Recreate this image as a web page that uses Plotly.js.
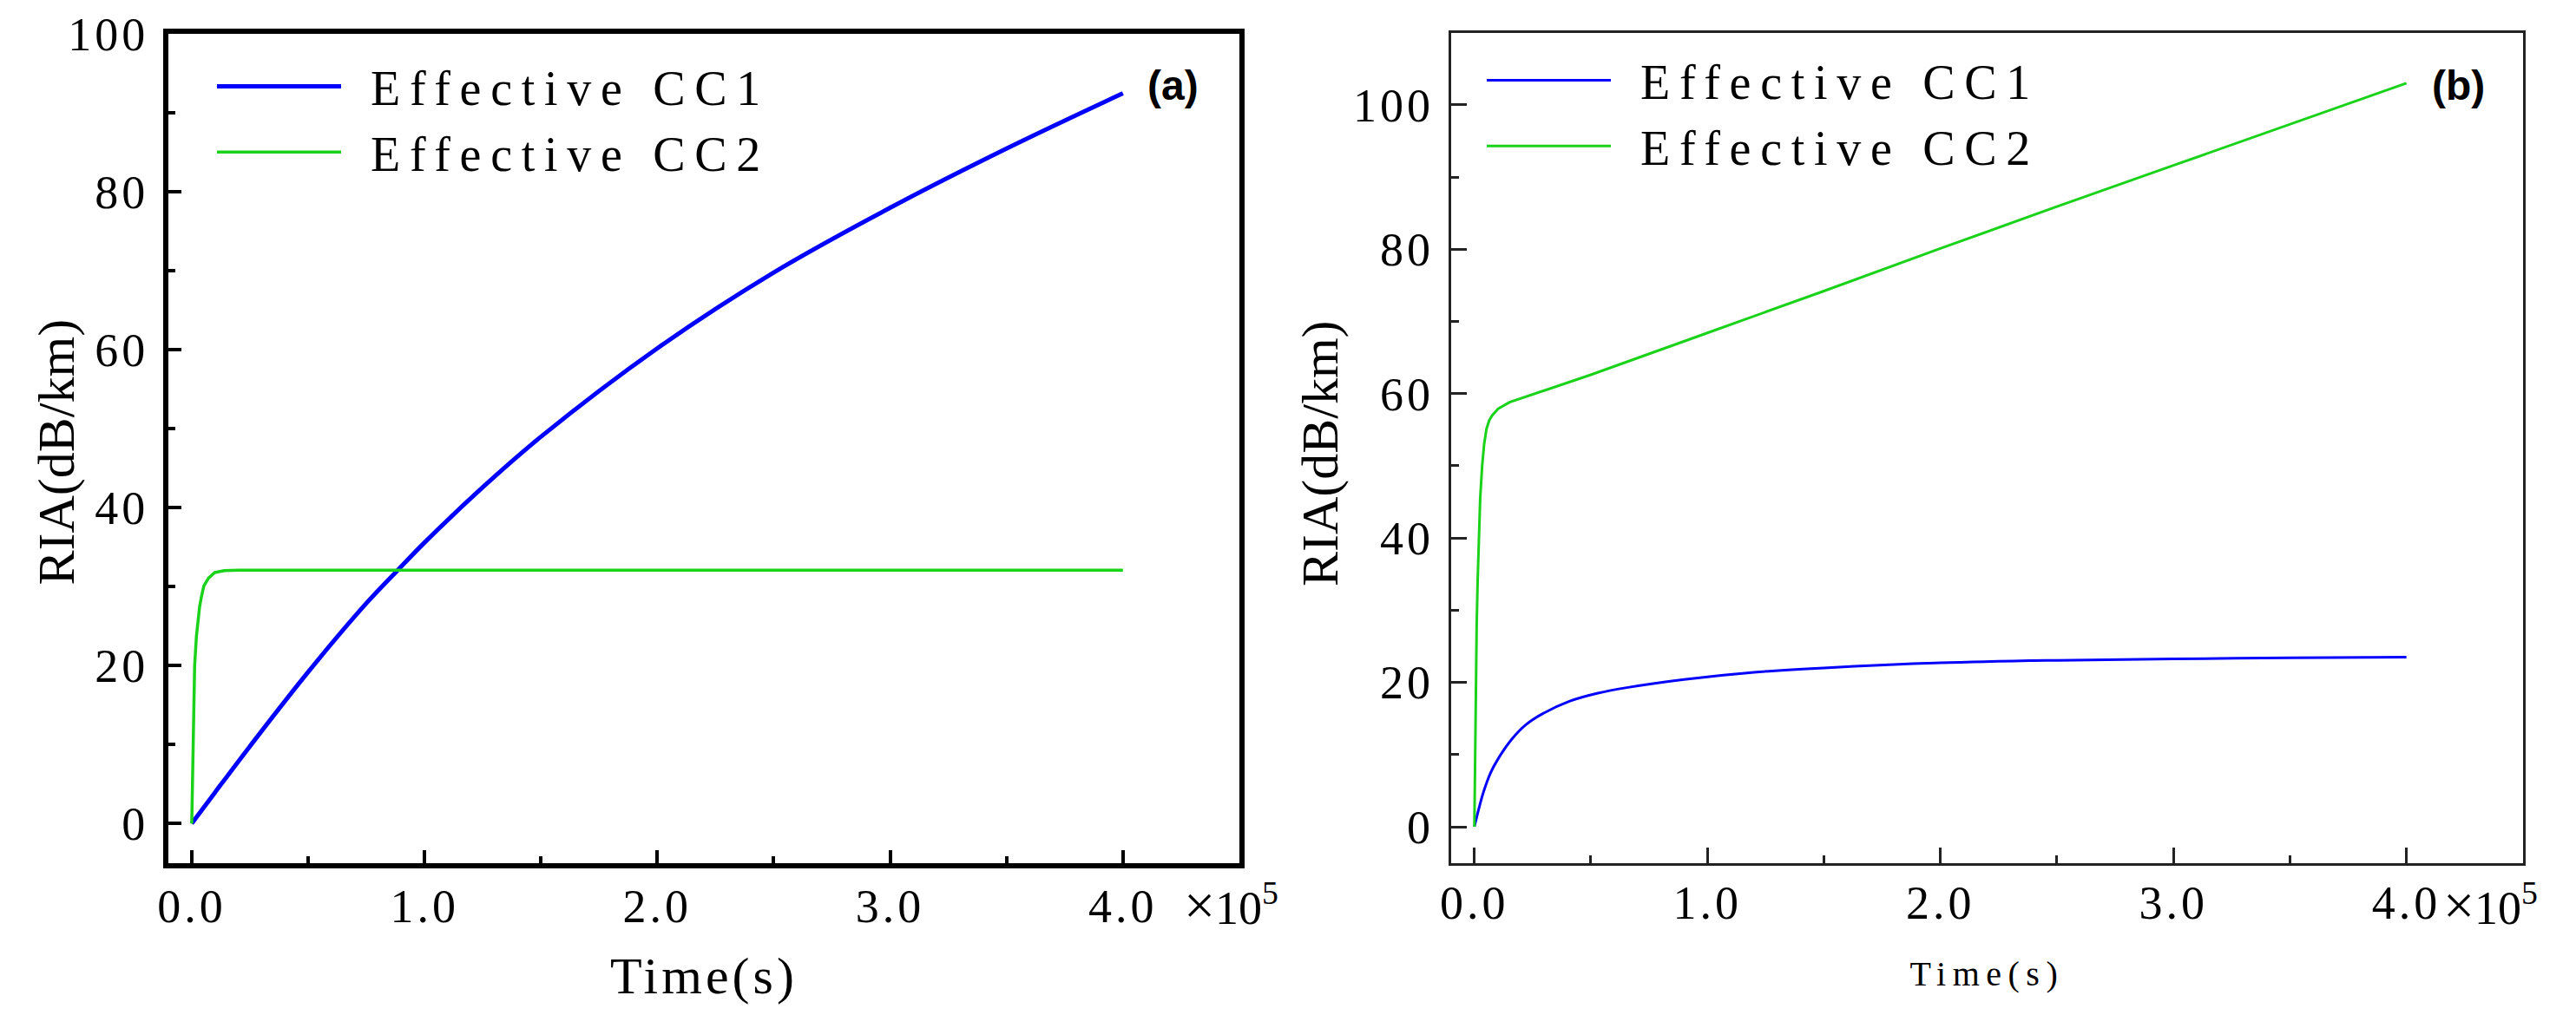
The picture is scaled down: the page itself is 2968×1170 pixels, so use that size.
<!DOCTYPE html>
<html>
<head>
<meta charset="utf-8">
<script src="https://cdn.plot.ly/plotly-3.0.1.min.js"></script>
<style>
  html, body { margin: 0; padding: 0; background: #fff; }
  #chart { width: 2968px; height: 1170px; }
  .xtick text, .ytick text, .x2tick text, .y2tick text { letter-spacing: 4px; }
  .legendtext, .legend2text { letter-spacing: 10.7px; transform: translateX(29px); }
  .legend .scrollbox, .legend2 .scrollbox { clip-path: none !important; }
  .xtitle { letter-spacing: 4px; }
  .x2title { letter-spacing: 7.5px; }
</style>
</head>
<body>
<div id="chart"></div>
<script>
// ---------- data (time in seconds, RIA in dB/km) ----------
// panel (a)
const aCC1_t = [0, 10000, 25000, 50000, 75000, 88500, 100000, 125000, 150000, 200000, 250000, 300000, 350000, 400000];
const aCC1_v = [0, 3.95, 9.8, 19.2, 27.9, 32.1, 35.6, 42.6, 49.0, 60.2, 69.8, 78.0, 85.5, 92.5];
const aCC2_t = [0, 300, 600, 900, 1240, 2000, 2600, 3340, 4200, 5200, 7200, 9900, 14000, 20000, 400000];
const aCC2_v = [0, 5, 10, 15, 20, 23.7, 25.5, 27.4, 28.8, 30.1, 31.1, 31.8, 32.05, 32.1, 32.1];
// panel (b)
const bCC1_t = [0, 2000, 4000, 7000, 10000, 16000, 22000, 29000, 41000, 53000, 66000, 90000, 120000, 150000, 200000, 250000, 300000, 350000, 400000];
const bCC1_v = [0, 2.6, 4.9, 7.5, 9.3, 12.1, 14.1, 15.6, 17.4, 18.5, 19.3, 20.4, 21.4, 22.0, 22.7, 23.05, 23.25, 23.4, 23.5];
const bCC2_t = [0, 300, 620, 1000, 1400, 1860, 2500, 3350, 4200, 5200, 6400, 7700, 10200, 15100, 25000, 50000, 100000, 150000, 200000, 250000, 300000, 350000, 400000];
const bCC2_v = [0, 10, 20, 28, 34, 40, 45.5, 50, 53, 55.1, 56.3, 57.0, 57.9, 58.8, 59.9, 62.6, 68.4, 74.2, 80.1, 85.9, 91.6, 97.3, 103.0];

// ---------- ticks ----------
const xTickVals = [0, 100000, 200000, 300000, 400000];
const xTickText = ['0.0', '1.0', '2.0', '3.0', '4.0'];
const xMinorVals = [50000, 150000, 250000, 350000];
const aYTickVals = [0, 20, 40, 60, 80, 100];
const bYTickVals = [0, 20, 40, 60, 80, 100];
const yMinorVals = [10, 30, 50, 70, 90];
const seriesNames = ['Effective CC1', 'Effective CC2'];
const yTitle = 'RIA(dB/km)';
const xTitle = 'Time(s)';
const colCC1 = '#0000ff';
const colCC2 = '#1ad21a';

const SERIF = 'Liberation Serif, Times New Roman, serif';

const traces = [
  {x: aCC1_t, y: aCC1_v, name: seriesNames[0], type: 'scatter', mode: 'lines',
   line: {color: colCC1, width: 5, shape: 'spline', smoothing: 1}, xaxis: 'x', yaxis: 'y', legend: 'legend'},
  {x: aCC2_t, y: aCC2_v, name: seriesNames[1], type: 'scatter', mode: 'lines',
   line: {color: colCC2, width: 3.5}, xaxis: 'x', yaxis: 'y', legend: 'legend'},
  {x: bCC1_t, y: bCC1_v, name: seriesNames[0], type: 'scatter', mode: 'lines',
   line: {color: colCC1, width: 3, shape: 'spline', smoothing: 1}, xaxis: 'x2', yaxis: 'y2', legend: 'legend2'},
  {x: bCC2_t, y: bCC2_v, name: seriesNames[1], type: 'scatter', mode: 'lines',
   line: {color: colCC2, width: 3}, xaxis: 'x2', yaxis: 'y2', legend: 'legend2'}
];

function xAxis(domain, anchor, lw, tl, tw, lc, titleSize, standoff) {
  return {
    domain: domain, anchor: anchor, range: [-10000, 450000],
    tickmode: 'array', tickvals: xTickVals, ticktext: xTickText,
    ticks: 'inside', ticklen: tl, tickwidth: tw, tickcolor: lc,
    minor: {tickmode: 'array', tickvals: xMinorVals, ticks: 'inside', ticklen: Math.round(tl / 2), tickwidth: tw, tickcolor: lc, showgrid: false},
    showline: true, linewidth: lw, linecolor: lc, mirror: true,
    showgrid: false, zeroline: false, fixedrange: true,
    tickfont: {family: SERIF, size: 54, color: '#000'},
    ticklabelstandoff: -3,
    title: {text: xTitle, font: {family: SERIF, size: titleSize, color: '#000'}, standoff: standoff}
  };
}
function yAxis(domain, anchor, range, tv, lw, tl, tw, lc) {
  return {
    domain: domain, anchor: anchor, range: range,
    tickmode: 'array', tickvals: tv,
    ticks: 'inside', ticklen: tl, tickwidth: tw, tickcolor: lc,
    minor: {tickmode: 'array', tickvals: yMinorVals, ticks: 'inside', ticklen: Math.round(tl / 2), tickwidth: tw, tickcolor: lc, showgrid: false},
    showline: true, linewidth: lw, linecolor: lc, mirror: true,
    showgrid: false, zeroline: false, fixedrange: true,
    tickfont: {family: SERIF, size: 54, color: '#000'},
    ticklabelstandoff: 6
  };
}

const layout = {
  width: 2968, height: 1170,
  margin: {l: 0, r: 0, t: 0, b: 0},
  paper_bgcolor: '#ffffff', plot_bgcolor: '#ffffff',
  showlegend: true,
  xaxis: xAxis([0.0654, 0.4811], 'y', 6, 15, 4, '#000000', 60, 31),
  yaxis: yAxis([0.1497, 0.9664], 'x', [-5, 100], aYTickVals, 6, 15, 4, '#000000'),
  xaxis2: xAxis([0.5633, 0.9794], 'y2', 3, 18, 3, '#222222', 40, 38),
  yaxis2: yAxis([0.1499, 0.9679], 'x2', [-5, 110], bYTickVals, 3, 18, 3, '#222222'),
  legend: {x: 245 / 2968, y: 0.9516, xanchor: 'left', yanchor: 'top', bgcolor: 'rgba(0,0,0,0)',
           font: {family: SERIF, size: 56, color: '#000'}, itemwidth: 143, tracegroupgap: 0},
  legend2: {x: 1708 / 2968, y: 0.9576, xanchor: 'left', yanchor: 'top', bgcolor: 'rgba(0,0,0,0)',
           font: {family: SERIF, size: 56, color: '#000'}, itemwidth: 143, tracegroupgap: 0},
  annotations: [
    {xref: 'paper', yref: 'paper', x: 65 / 2968, y: 0.5543, xanchor: 'center', yanchor: 'middle', showarrow: false,
     textangle: -90, text: yTitle, font: {family: SERIF, size: 60, color: '#000'}},
    {xref: 'paper', yref: 'paper', x: 1521 / 2968, y: 0.5538, xanchor: 'center', yanchor: 'middle', showarrow: false,
     textangle: -90, text: yTitle, font: {family: SERIF, size: 60, color: '#000'}},
    {xref: 'paper', yref: 'paper', x: 0.4555, y: 0.9162, xanchor: 'center', yanchor: 'middle', showarrow: false,
     text: '<b>(a)</b>', font: {family: 'Liberation Sans, Arial, sans-serif', size: 48, color: '#000'}},
    {xref: 'paper', yref: 'paper', x: 0.9545, y: 0.9162, xanchor: 'center', yanchor: 'middle', showarrow: false,
     text: '<b>(b)</b>', font: {family: 'Liberation Sans, Arial, sans-serif', size: 48, color: '#000'}},
    {xref: 'paper', yref: 'paper', x: 1362 / 2968, y: 0.1085, xanchor: 'left', yanchor: 'middle', showarrow: false,
     text: '<span style="font-size:64px">×</span>10<sup>5</sup>', font: {family: SERIF, size: 54, color: '#000'}},
    {xref: 'paper', yref: 'paper', x: 2813 / 2968, y: 0.1085, xanchor: 'left', yanchor: 'middle', showarrow: false,
     text: '<span style="font-size:64px">×</span>10<sup>5</sup>', font: {family: SERIF, size: 54, color: '#000'}}
  ]
};

Plotly.newPlot('chart', traces, layout, {displayModeBar: false, staticPlot: true});
</script>
</body>
</html>
